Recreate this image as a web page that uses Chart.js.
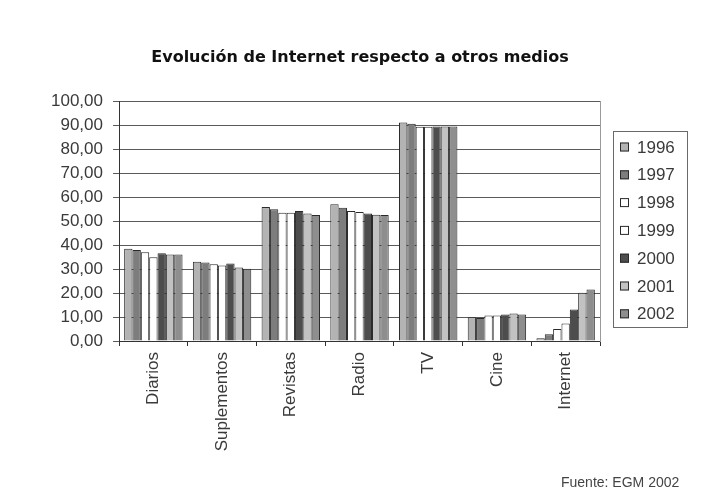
<!DOCTYPE html>
<html>
<head>
<meta charset="utf-8">
<script src="https://cdn.jsdelivr.net/npm/chart.js@4.4.1/dist/chart.umd.min.js"></script>
<style>
  html, body { margin: 0; padding: 0; background: #ffffff; }
  #wrap { width: 720px; height: 499px; position: relative; }
</style>
</head>
<body>
<div id="wrap"><canvas id="c" width="720" height="499"></canvas></div>
<script>
// ---- data ----
const categories = ["Diarios", "Suplementos", "Revistas", "Radio", "TV", "Cine", "Internet"];
const years = ["1996", "1997", "1998", "1999", "2000", "2001", "2002"];
const y1996 = [38.5, 33.1, 55.9, 57.0, 91.1, 9.9, 1.1];
const y1997 = [38.0, 32.7, 54.9, 55.6, 90.6, 9.6, 2.8];
const y1998 = [37.0, 32.0, 53.5, 54.2, 89.3, 10.6, 5.0];
const y1999 = [34.9, 31.5, 53.5, 53.8, 89.3, 10.6, 7.3];
const y2000 = [36.6, 32.3, 54.2, 53.2, 89.4, 11.0, 13.1];
const y2001 = [36.1, 30.7, 53.2, 52.7, 89.4, 11.5, 20.1];
const y2002 = [36.1, 30.1, 52.5, 52.5, 89.4, 11.0, 21.5];
const seriesValues = [y1996, y1997, y1998, y1999, y2000, y2001, y2002];
const yTicks = [0, 10, 20, 30, 40, 50, 60, 70, 80, 90, 100];
const titleText = "Evolución de Internet respecto a otros medios";
const sourceText = "Fuente: EGM 2002";

// ---- styles ----
const fills = ["#b3b3b3", "#7d7d7d", "#ffffff", "#ffffff", "#4d4d4d", "#c2c2c2", "#8e8e8e"];
const tickFont = { family: "'Liberation Sans', Arial, sans-serif", size: 17 };

const datasets = years.map((yr, i) => ({
  label: yr,
  data: seriesValues[i],
  backgroundColor: fills[i],
  borderColor: "#2a2a2a",
  borderWidth: 1,
  borderSkipped: "bottom",
  categoryPercentage: 0.85,
  barPercentage: 1.0
}));

const extrasPlugin = {
  id: "extras",
  afterDraw(chart) {
    const ctx = chart.ctx;
    ctx.save();
    // legend frame
    const lx = 613, ly = 131, lw = 74, lh = 196;
    ctx.strokeStyle = "#6a6a6a";
    ctx.lineWidth = 1;
    ctx.strokeRect(lx + 0.5, ly + 0.5, lw, lh);
    ctx.font = "17px 'Liberation Sans', Arial, sans-serif";
    ctx.textBaseline = "middle";
    ctx.textAlign = "left";
    chart.data.datasets.forEach((ds, i) => {
      const cy = 147 + i * 27.8;
      ctx.fillStyle = ds.backgroundColor;
      ctx.fillRect(620, cy - 4.5, 9, 9);
      ctx.strokeStyle = "#2a2a2a";
      ctx.strokeRect(620.5, cy - 4, 8, 8);
      ctx.fillStyle = "#3a3a3a";
      ctx.fillText(ds.label, 637, cy + 1);
    });
    // source note
    ctx.font = "14px 'Liberation Sans', Arial, sans-serif";
    ctx.fillStyle = "#444";
    ctx.textAlign = "left";
    ctx.fillText(sourceText, 561, 483);
    ctx.restore();
  }
};

new Chart(document.getElementById("c"), {
  type: "bar",
  data: { labels: categories, datasets },
  options: {
    responsive: false,
    animation: false,
    devicePixelRatio: 1,
    layout: { padding: { left: 10, right: 10, top: 0, bottom: 0 } },
    plugins: {
      legend: { display: false },
      tooltip: { enabled: false },
      title: {
        display: true,
        text: titleText,
        color: "#111",
        font: { family: "'DejaVu Sans', Verdana, sans-serif", size: 16, weight: "bold" },
        padding: { top: 48, bottom: 34 }
      }
    },
    scales: {
      x: {
        offset: true,
        grid: { display: true, drawOnChartArea: false, drawTicks: true, tickLength: 5, color: "#333", offset: true },
        border: { display: true, color: "#333", width: 1 },
        ticks: { color: "#3a3a3a", font: tickFont, minRotation: 90, maxRotation: 90, padding: 6, autoSkip: false },
        afterFit(s) { s.height = 158; }
      },
      y: {
        min: 0,
        max: 100,
        afterBuildTicks(s) { s.ticks = yTicks.map(v => ({ value: v })); },
        grid: { color: "#5a5a5a", lineWidth: 1, tickLength: 6, drawTicks: true },
        border: { display: true, color: "#333", width: 1 },
        ticks: {
          color: "#3a3a3a",
          font: tickFont,
          padding: 10,
          callback: v => v.toFixed(2).replace(".", ",")
        },
        afterFit(s) { s.width = 109; }
      },
      y2: {
        position: "right",
        display: true,
        min: 0, max: 100,
        grid: { display: false, drawTicks: false },
        ticks: { display: false },
        border: { display: true, color: "#9a9a9a", width: 1 },
        afterFit(s) { s.width = 110; }
      }
    }
  },
  plugins: [extrasPlugin]
});
</script>
</body>
</html>
